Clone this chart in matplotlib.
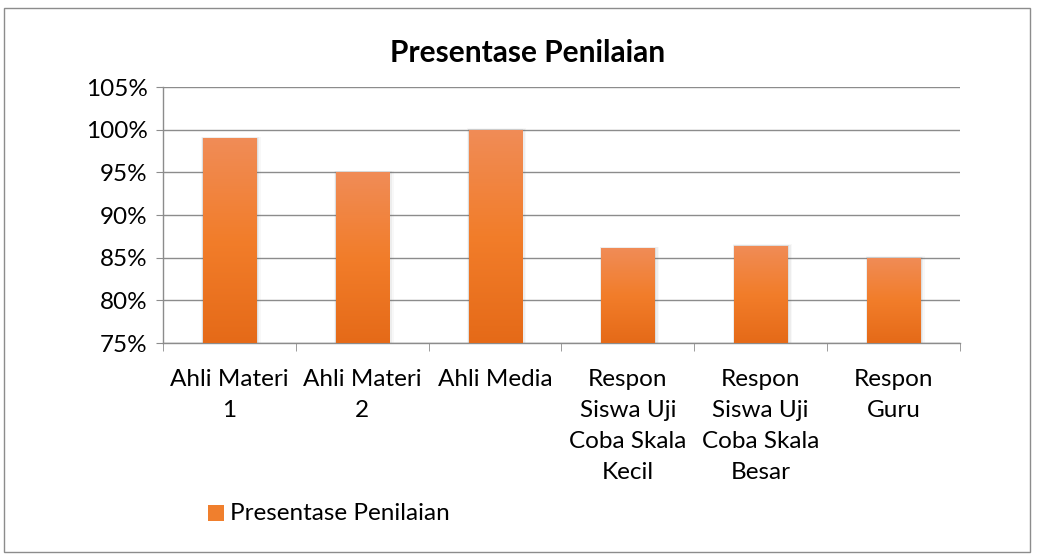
import numpy as np
import matplotlib.pyplot as plt
from matplotlib.patches import Rectangle
from matplotlib.colors import LinearSegmentedColormap
from matplotlib.ticker import FuncFormatter, MultipleLocator

plt.rcParams['font.family'] = ['Lato', 'DejaVu Sans']

categories = ['Ahli Materi\n1', 'Ahli Materi\n2', 'Ahli Media',
              'Respon\nSiswa Uji\nCoba Skala\nKecil',
              'Respon\nSiswa Uji\nCoba Skala\nBesar',
              'Respon\nGuru']
values = [99, 95, 100, 86.1, 86.4, 85]
series_name = 'Presentase Penilaian'

W, H = 1038, 560
fig = plt.figure(figsize=(W / 100, H / 100), dpi=100)

# outer chart frame
fig.patches.append(Rectangle((4 / W, 1 - 552 / H), 1026 / W, 544 / H,
                             transform=fig.transFigure, fill=False,
                             edgecolor='#8c8c8c', linewidth=1.0))

left, right, top, bottom = 163, 960, 87, 343
ax = fig.add_axes([left / W, 1 - bottom / H, (right - left) / W,
                   (bottom - top) / H])

x = np.arange(len(values))
ax.grid(axis='y', color='#8c8c8c', linewidth=1.0)
ax.set_axisbelow(True)

for s in ['top', 'right']:
    ax.spines[s].set_visible(False)
for s in ['left', 'bottom']:
    ax.spines[s].set_color('#8c8c8c')
    ax.spines[s].set_linewidth(1.0)

# gradient orange bars with soft shadow
cmap = LinearSegmentedColormap.from_list(
    'bar', ['#e56a18', '#f27d2a', '#f08c57'])
grad = np.linspace(0, 1, 256).reshape(-1, 1)
bw = 0.4
for xi, v in zip(x, values):
    for k, a in enumerate([0.10, 0.07, 0.04]):
        off = 0.012 * (k + 1)
        ax.add_patch(Rectangle((xi - bw / 2 - off * 0.3, 75), bw + off * 1.3,
                               v - 75 + 0.05 * (k + 1), facecolor='#606060',
                               alpha=a, edgecolor='none', zorder=2))
    im = ax.imshow(grad, cmap=cmap, aspect='auto', origin='lower',
                   extent=(xi - bw / 2, xi + bw / 2, 75, v), zorder=3)
    clip = Rectangle((xi - bw / 2, 75), bw, v - 75, transform=ax.transData)
    im.set_clip_path(clip)
ax.set_xlim(-0.5, len(values) - 0.5)
ax.set_ylim(75, 105)
ax.yaxis.set_major_locator(MultipleLocator(5))
ax.yaxis.set_major_formatter(FuncFormatter(lambda v, p: '{:.0f}%'.format(v)))

ax.set_xticks(np.arange(len(values) + 1) - 0.5, minor=True)
ax.set_xticks(x)
ax.set_xticklabels(categories, fontsize=17.5, linespacing=1.58,
                   va='top', color='#000000')
ax.tick_params(axis='x', which='major', length=0, pad=19)
ax.tick_params(axis='x', which='minor', length=6, color='#8c8c8c',
               direction='out')
ax.tick_params(axis='y', length=5, color='#8c8c8c', labelsize=17.5, pad=6)

fig.text(528 / W, 1 - 53 / H, series_name, ha='center', va='center',
         fontsize=21.5, fontweight='bold')

# legend
fig.patches.append(Rectangle((208 / W, 1 - 521 / H), 16 / W, 16 / H,
                             transform=fig.transFigure,
                             facecolor='#f07f2d', edgecolor='none'))
fig.text(230 / W, 1 - 513 / H, series_name, ha='left', va='center',
         fontsize=17.5)

fig.savefig('out.png', dpi=100)
